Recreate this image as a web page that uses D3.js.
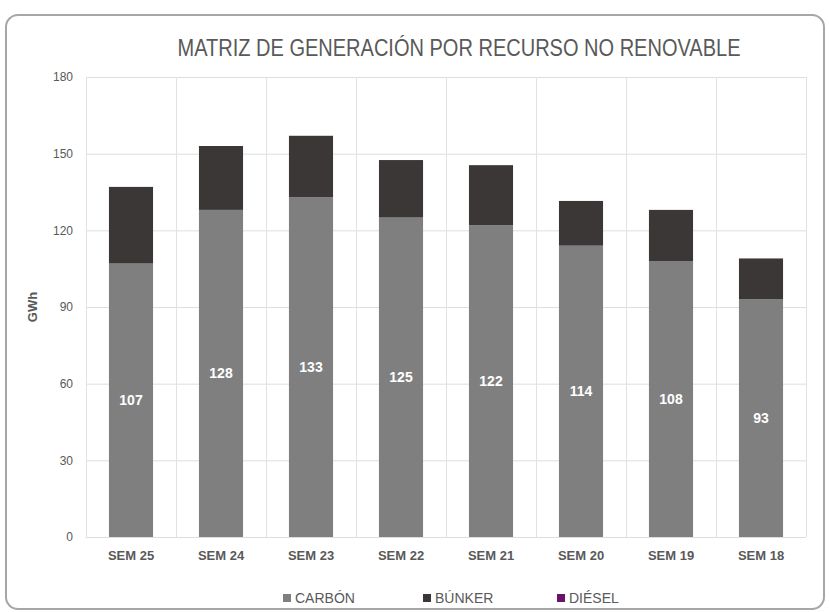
<!DOCTYPE html>
<html>
<head>
<meta charset="utf-8">
<script src="https://cdn.jsdelivr.net/npm/d3@7"></script>
<style>
  body { margin: 0; background: #fff; }
  svg text { font-family: "Liberation Sans Narrow", "Arial Narrow", "Liberation Sans", sans-serif; }
</style>
</head>
<body>
<svg></svg>
<script>
var width = 829;
var height = 612;

var weeks = ["SEM 25", "SEM 24", "SEM 23", "SEM 22", "SEM 21", "SEM 20", "SEM 19", "SEM 18"];
var carbon = [107, 128, 133, 125, 122, 114, 108, 93];
var bunker = [30, 25, 24, 22.5, 23.5, 17.5, 20, 16];
var diesel = [0, 0, 0, 0, 0, 0, 0, 0];
var yTicks = [0, 30, 60, 90, 120, 150, 180];

var seriesNames = ["CARBÓN", "BÚNKER", "DIÉSEL"];
var seriesColors = ["#7f7f7f", "#3b3737", "#6b106b"];

var margin = {left: 86, right: 23, top: 77, bottom: 75};

var svg = d3.select("svg")
  .attr("width", width)
  .attr("height", height);

// outer frame
svg.append("rect")
  .attr("x", 6).attr("y", 15)
  .attr("width", 818).attr("height", 594)
  .attr("rx", 12)
  .attr("fill", "#fff")
  .attr("stroke", "#a6a6a6")
  .attr("stroke-width", 2);

var x = d3.scaleBand()
  .domain(weeks)
  .range([margin.left, width - margin.right])
  .paddingInner(0.51)
  .paddingOuter(0.255);

var y = d3.scaleLinear()
  .domain([0, 180])
  .range([height - margin.bottom, margin.top]);

// horizontal gridlines
svg.append("g").selectAll("line")
  .data(yTicks)
  .enter().append("line")
  .attr("x1", margin.left)
  .attr("x2", width - margin.right)
  .attr("y1", function(d){ return y(d) + 0.5; })
  .attr("y2", function(d){ return y(d) + 0.5; })
  .attr("stroke", "#dedede")
  .attr("stroke-width", 1);

// vertical category separators
var step = x.step();
svg.append("g").selectAll("line")
  .data(d3.range(weeks.length + 1))
  .enter().append("line")
  .attr("x1", function(i){ return margin.left + i*step + 0.5; })
  .attr("x2", function(i){ return margin.left + i*step + 0.5; })
  .attr("y1", y(180))
  .attr("y2", y(0))
  .attr("stroke", "#e2e2e2")
  .attr("stroke-width", 1);

// stacked bars
var rows = weeks.map(function(w, i){
  return {week: w, carbon: carbon[i], bunker: bunker[i], diesel: diesel[i]};
});
var stack = d3.stack().keys(["carbon", "bunker", "diesel"]);
var layers = stack(rows);

svg.append("g").selectAll("g")
  .data(layers)
  .enter().append("g")
  .attr("fill", function(d, i){ return seriesColors[i]; })
  .selectAll("rect")
  .data(function(d){ return d; })
  .enter().append("rect")
  .attr("x", function(d){ return x(d.data.week); })
  .attr("width", x.bandwidth())
  .attr("y", function(d){ return y(d[1]); })
  .attr("height", function(d){ return y(d[0]) - y(d[1]); });

// carbon value labels
svg.append("g").selectAll("text")
  .data(rows)
  .enter().append("text")
  .attr("x", function(d){ return x(d.week) + x.bandwidth()/2; })
  .attr("y", function(d){ return y(d.carbon/2); })
  .attr("dy", "0.35em")
  .attr("text-anchor", "middle")
  .attr("fill", "#fff")
  .attr("font-weight", "bold")
  .attr("font-size", 14)
  .text(function(d){ return d3.format(".0f")(d.carbon); });

// y axis
var yAxis = d3.axisLeft(y).tickValues(yTicks).tickSize(0).tickPadding(13);
var ya = svg.append("g")
  .attr("transform", "translate(" + margin.left + ",0)")
  .call(yAxis);
ya.select(".domain").remove();
ya.selectAll("text").attr("fill", "#595959").attr("font-size", 12);

// x axis
var xAxis = d3.axisBottom(x).tickSize(0).tickPadding(14);
var xa = svg.append("g")
  .attr("transform", "translate(0," + y(0) + ")")
  .call(xAxis);
xa.select(".domain").remove();
xa.selectAll("text").attr("fill", "#595959").attr("font-size", 13).attr("font-weight", "bold");

// y title
svg.append("text")
  .attr("transform", "translate(37," + y(90) + ") rotate(-90)")
  .attr("text-anchor", "middle")
  .attr("fill", "#595959")
  .attr("font-size", 13)
  .attr("font-weight", "bold")
  .text("GWh");

// chart title
svg.append("text")
  .attr("x", 459)
  .attr("y", 56)
  .attr("text-anchor", "middle")
  .attr("fill", "#595959")
  .attr("font-size", 23)
  .attr("textLength", 563)
  .attr("lengthAdjust", "spacingAndGlyphs")
  .text("MATRIZ DE GENERACIÓN POR RECURSO NO RENOVABLE");

// legend
var legendX = [283, 423, 557];
var lg = svg.append("g").selectAll("g")
  .data(seriesNames)
  .enter().append("g")
  .attr("transform", function(d, i){ return "translate(" + legendX[i] + ",598)"; });
lg.append("rect")
  .attr("x", 0).attr("y", -4)
  .attr("width", 8).attr("height", 8)
  .attr("fill", function(d, i){ return seriesColors[i]; });
lg.append("text")
  .attr("x", 12)
  .attr("dy", "0.35em")
  .attr("fill", "#595959")
  .attr("font-size", 14)
  .text(function(d){ return d; });
</script>
</body>
</html>
